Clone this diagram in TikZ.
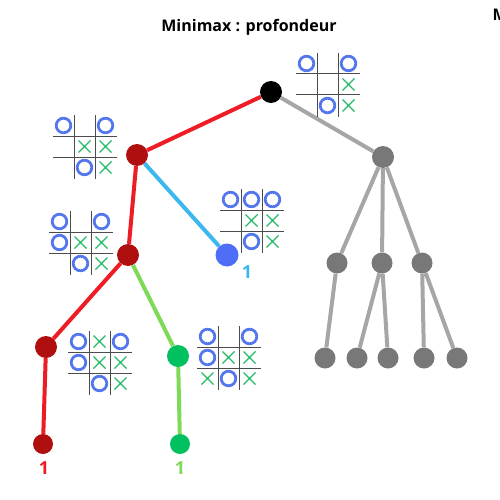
\documentclass[tikz,border=0pt]{standalone}
\usepackage{fontspec}
\setmainfont{Open Sans}
\definecolor{redline}{HTML}{EE1C24}
\definecolor{rednode}{HTML}{B00F0F}
\definecolor{blueline}{HTML}{3DB7F0}
\definecolor{bluenode}{HTML}{4F6EF7}
\definecolor{greenline}{HTML}{7ED957}
\definecolor{greennode}{HTML}{00C060}
\definecolor{grayline}{HTML}{A6A6A6}
\definecolor{graynode}{HTML}{787878}
\definecolor{ocol}{HTML}{5577EE}
\definecolor{xcol}{HTML}{22BB66}
\tikzset{
  vtx/.style={circle,inner sep=0pt,minimum size=#1},
  vtx/.default=22pt,
  edgeline/.style={line width=4pt},
  gridline/.style={draw=black!70,line width=1pt},
  omark/.style={draw=ocol,line width=2.8pt},
  xmark/.style={draw=xcol,line width=1.2pt},
  lab/.style={font=\bfseries\fontsize{18}{20}\selectfont,inner sep=0pt},
}
\newcommand\tttboard[4]{%
  \begin{scope}[shift={(#1,#2)}]
    \draw[gridline] (21,0)--(21,64) (42,0)--(42,64) (0,21)--(64,21) (0,42)--(64,42);
    \foreach \c/\r in {#3} \draw[omark] (10.5+21*\c,10.5+21*\r) circle (7.3pt);
    \foreach \c/\r in {#4} \draw[xmark] (4.5+21*\c,4.5+21*\r)--(16.5+21*\c,16.5+21*\r) (16.5+21*\c,4.5+21*\r)--(4.5+21*\c,16.5+21*\r);
  \end{scope}}
\begin{document}
\begin{tikzpicture}[x=1pt,y=-1pt]
\useasboundingbox (0,0) rectangle (500,500);
\node[font=\bfseries\fontsize{16}{18}\selectfont] (title) at (249,27) {Minimax : profondeur};
\node[font=\bfseries\fontsize{16}{18}\selectfont,anchor=west] (title2) at (489,15) {M};
% nodes
\node[vtx,fill=black] (root) at (271,92) {};
\node[vtx,fill=rednode] (r1) at (137,155) {};
\node[vtx,fill=graynode] (g1) at (383,157) {};
\node[vtx,fill=bluenode,minimum size=23pt] (b1) at (227,255) {};
\node[vtx,fill=rednode] (r2) at (128,255) {};
\node[vtx=21pt,fill=graynode] (g2) at (337,263) {};
\node[vtx=21pt,fill=graynode] (g3) at (382,263) {};
\node[vtx=21pt,fill=graynode] (g4) at (422,263) {};
\node[vtx=21pt,fill=graynode] (l1) at (325,358) {};
\node[vtx=21pt,fill=graynode] (l2) at (357,358) {};
\node[vtx=21pt,fill=graynode] (l3) at (388,358) {};
\node[vtx=21pt,fill=graynode] (l4) at (424,358) {};
\node[vtx=21pt,fill=graynode] (l5) at (457,358) {};
\node[vtx,fill=rednode] (r3) at (46,347) {};
\node[vtx,fill=greennode] (gr) at (178,356) {};
\node[vtx=20pt,fill=rednode] (rl) at (43,444) {};
\node[vtx=20pt,fill=greennode] (gl) at (180,444) {};
% labels
\node[lab,text=redline] (lr) at (44,468) {1};
\node[lab,text=greenline] (lg) at (180,468) {1};
\node[lab,text=blueline] (lb) at (247,272) {1};
% edges
\draw[edgeline,redline] (root)--(r1) (r1)--(r2) (r2)--(r3) (r3)--(rl);
\draw[edgeline,blueline] (r1)--(b1);
\draw[edgeline,greenline] (r2)--(gr) (gr)--(gl);
\draw[edgeline,grayline] (root)--(g1) (g1)--(g2) (g1)--(g3) (g1)--(g4)
  (g2)--(l1) (g3)--(l2) (g3)--(l3) (g4)--(l4) (g4)--(l5);
% boards
\tttboard{296}{53}{0/0,2/0,1/2}{2/1,2/2}
\tttboard{53}{115}{0/0,2/0,1/2}{1/1,2/1,2/2}
\tttboard{49}{211}{0/0,2/0,0/1,1/2}{1/1,2/1,2/2}
\tttboard{220}{189}{0/0,1/0,2/0,1/2}{1/1,2/1,2/2}
\tttboard{68}{331}{0/0,2/0,0/1,1/2}{1/0,1/1,2/1,2/2}
\tttboard{197}{326}{0/0,2/0,0/1,1/2}{1/1,2/1,0/2,2/2}
\end{tikzpicture}
\end{document}
